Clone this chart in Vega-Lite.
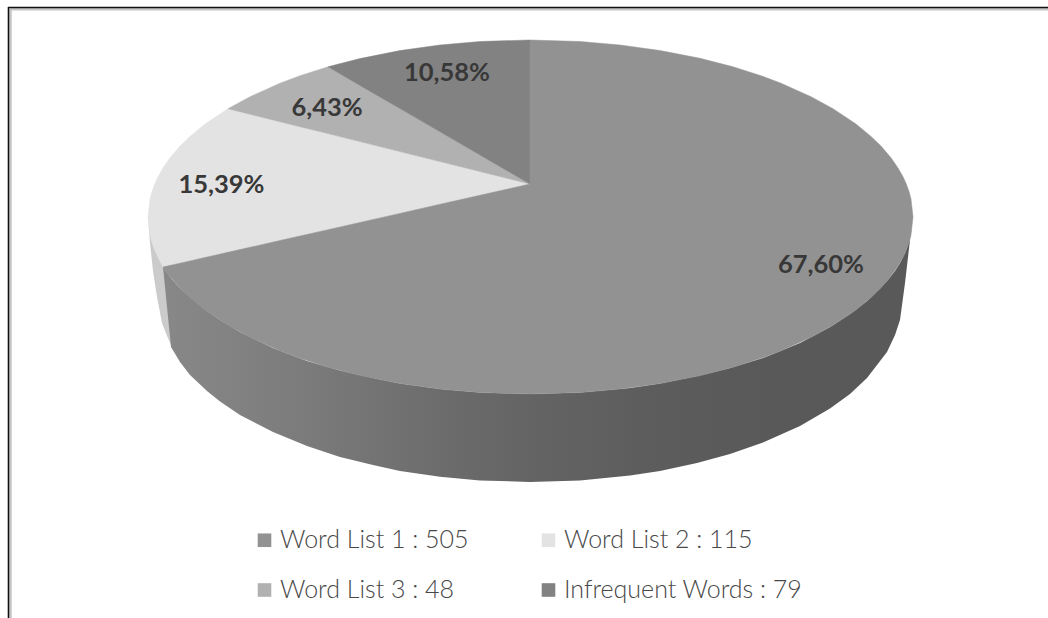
{
  "$schema": "https://vega.github.io/schema/vega-lite/v6.json",
  "width": 1048,
  "height": 618,
  "autosize": {"type": "none"},
  "padding": 0,
  "background": "white",
  "view": {"stroke": null},
  "datasets": {
    "frameInner": [
      {"x": 10, "x2": 1048, "y": 9.2, "y2": 9.2},
      {"x": 10.5, "x2": 10.5, "y": 9, "y2": 618}
    ],
    "frameOuter": [
      {"x": 8, "x2": 1048, "y": 7.5, "y2": 7.5},
      {"x": 8.5, "x2": 8.5, "y": 7, "y2": 618}
    ],
    "sideLight": [
      {"x": 148, "y": 217, "y2": 217},
      {"x": 150, "y": 217, "y2": 243},
      {"x": 153, "y": 217, "y2": 271},
      {"x": 157, "y": 217, "y2": 297},
      {"x": 162, "y": 217, "y2": 323},
      {"x": 167, "y": 217, "y2": 336},
      {"x": 172, "y": 217, "y2": 347}
    ],
    "sideDark": [
      {"x": 163, "y": 267, "y2": 267},
      {"x": 171, "y": 278, "y2": 347},
      {"x": 180, "y": 288, "y2": 362},
      {"x": 190, "y": 297, "y2": 375},
      {"x": 207, "y": 311, "y2": 391},
      {"x": 220, "y": 320, "y2": 401.6},
      {"x": 240, "y": 332, "y2": 415},
      {"x": 273, "y": 348, "y2": 432},
      {"x": 307, "y": 361, "y2": 446},
      {"x": 340, "y": 370.5, "y2": 457},
      {"x": 373, "y": 378, "y2": 465},
      {"x": 400, "y": 383.4, "y2": 471},
      {"x": 440, "y": 389, "y2": 476.7},
      {"x": 480, "y": 392.5, "y2": 480.4},
      {"x": 530, "y": 394, "y2": 482},
      {"x": 580, "y": 392.5, "y2": 480.4},
      {"x": 630, "y": 388, "y2": 475.4},
      {"x": 660, "y": 383.5, "y2": 471},
      {"x": 697, "y": 376, "y2": 463},
      {"x": 730, "y": 368, "y2": 454},
      {"x": 763, "y": 358, "y2": 442.5},
      {"x": 800, "y": 343, "y2": 426},
      {"x": 830, "y": 327, "y2": 408.5},
      {"x": 850, "y": 314, "y2": 394},
      {"x": 867, "y": 301, "y2": 378},
      {"x": 887, "y": 281, "y2": 352},
      {"x": 895, "y": 271, "y2": 335},
      {"x": 900, "y": 263, "y2": 320},
      {"x": 905, "y": 253, "y2": 283},
      {"x": 910, "y": 239, "y2": 240},
      {"x": 913, "y": 217, "y2": 217}
    ],
    "faces": [
      {"slice": "Word List 2 : 115", "x": 148, "y": 217, "y2": 217},
      {"slice": "Word List 2 : 115", "x": 150, "y": 199, "y2": 235},
      {"slice": "Word List 2 : 115", "x": 152, "y": 191.4, "y2": 242.6},
      {"slice": "Word List 2 : 115", "x": 155, "y": 183.3, "y2": 250.7},
      {"slice": "Word List 2 : 115", "x": 158, "y": 176.8, "y2": 257.2},
      {"slice": "Word List 2 : 115", "x": 163, "y": 167.9, "y2": 267},
      {"slice": "Word List 2 : 115", "x": 170, "y": 157.8, "y2": 265.4},
      {"slice": "Word List 2 : 115", "x": 180, "y": 146.1, "y2": 263.2},
      {"slice": "Word List 2 : 115", "x": 190, "y": 136.4, "y2": 260.9},
      {"slice": "Word List 2 : 115", "x": 205, "y": 124, "y2": 257.5},
      {"slice": "Word List 2 : 115", "x": 228, "y": 108.7, "y2": 252.3},
      {"slice": "Word List 2 : 115", "x": 250, "y": 114.2, "y2": 247.3},
      {"slice": "Word List 2 : 115", "x": 280, "y": 121.7, "y2": 240.5},
      {"slice": "Word List 2 : 115", "x": 328, "y": 133.6, "y2": 229.7},
      {"slice": "Word List 2 : 115", "x": 400, "y": 151.6, "y2": 213.4},
      {"slice": "Word List 2 : 115", "x": 480, "y": 171.5, "y2": 195.3},
      {"slice": "Word List 2 : 115", "x": 530, "y": 184, "y2": 184},

      {"slice": "Word List 3 : 48", "x": 228, "y": 108.7, "y2": 108.7},
      {"slice": "Word List 3 : 48", "x": 250, "y": 96.7, "y2": 114.2},
      {"slice": "Word List 3 : 48", "x": 280, "y": 83.2, "y2": 121.7},
      {"slice": "Word List 3 : 48", "x": 300, "y": 75.7, "y2": 126.7},
      {"slice": "Word List 3 : 48", "x": 328, "y": 66.8, "y2": 133.6},
      {"slice": "Word List 3 : 48", "x": 400, "y": 108.6, "y2": 151.6},
      {"slice": "Word List 3 : 48", "x": 480, "y": 155, "y2": 171.5},
      {"slice": "Word List 3 : 48", "x": 530, "y": 184, "y2": 184},

      {"slice": "Infrequent Words : 79", "x": 328, "y": 66.8, "y2": 66.8},
      {"slice": "Infrequent Words : 79", "x": 360, "y": 58.6, "y2": 85.4},
      {"slice": "Infrequent Words : 79", "x": 400, "y": 50.6, "y2": 108.6},
      {"slice": "Infrequent Words : 79", "x": 440, "y": 45, "y2": 131.8},
      {"slice": "Infrequent Words : 79", "x": 480, "y": 41.5, "y2": 155},
      {"slice": "Infrequent Words : 79", "x": 530, "y": 40, "y2": 184},

      {"slice": "Word List 1 : 505", "x": 163, "y": 267, "y2": 267},
      {"slice": "Word List 1 : 505", "x": 170, "y": 265.4, "y2": 276.2},
      {"slice": "Word List 1 : 505", "x": 180, "y": 263.2, "y2": 287.9},
      {"slice": "Word List 1 : 505", "x": 190, "y": 260.9, "y2": 297.6},
      {"slice": "Word List 1 : 505", "x": 205, "y": 257.5, "y2": 310},
      {"slice": "Word List 1 : 505", "x": 228, "y": 252.3, "y2": 325.3},
      {"slice": "Word List 1 : 505", "x": 250, "y": 247.3, "y2": 337.3},
      {"slice": "Word List 1 : 505", "x": 280, "y": 240.5, "y2": 350.8},
      {"slice": "Word List 1 : 505", "x": 300, "y": 236, "y2": 358.3},
      {"slice": "Word List 1 : 505", "x": 328, "y": 229.7, "y2": 367.2},
      {"slice": "Word List 1 : 505", "x": 360, "y": 222.4, "y2": 375.4},
      {"slice": "Word List 1 : 505", "x": 400, "y": 213.4, "y2": 383.4},
      {"slice": "Word List 1 : 505", "x": 440, "y": 204.3, "y2": 389},
      {"slice": "Word List 1 : 505", "x": 480, "y": 195.3, "y2": 392.5},
      {"slice": "Word List 1 : 505", "x": 530, "y": 184, "y2": 394},
      {"slice": "Word List 1 : 505", "x": 530, "y": 40, "y2": 394},
      {"slice": "Word List 1 : 505", "x": 580, "y": 41.5, "y2": 392.5},
      {"slice": "Word List 1 : 505", "x": 620, "y": 45, "y2": 389},
      {"slice": "Word List 1 : 505", "x": 660, "y": 50.5, "y2": 383.5},
      {"slice": "Word List 1 : 505", "x": 700, "y": 58.3, "y2": 375.7},
      {"slice": "Word List 1 : 505", "x": 733, "y": 66.8, "y2": 367.2},
      {"slice": "Word List 1 : 505", "x": 761, "y": 75.7, "y2": 358.3},
      {"slice": "Word List 1 : 505", "x": 781, "y": 83.2, "y2": 350.8},
      {"slice": "Word List 1 : 505", "x": 811, "y": 96.7, "y2": 337.3},
      {"slice": "Word List 1 : 505", "x": 833, "y": 108.7, "y2": 325.3},
      {"slice": "Word List 1 : 505", "x": 856, "y": 124, "y2": 310},
      {"slice": "Word List 1 : 505", "x": 871, "y": 136.4, "y2": 297.6},
      {"slice": "Word List 1 : 505", "x": 881, "y": 146.1, "y2": 287.9},
      {"slice": "Word List 1 : 505", "x": 891, "y": 157.8, "y2": 276.2},
      {"slice": "Word List 1 : 505", "x": 898, "y": 167.9, "y2": 266.1},
      {"slice": "Word List 1 : 505", "x": 903, "y": 176.8, "y2": 257.2},
      {"slice": "Word List 1 : 505", "x": 906, "y": 183.3, "y2": 250.7},
      {"slice": "Word List 1 : 505", "x": 909, "y": 191.4, "y2": 242.6},
      {"slice": "Word List 1 : 505", "x": 911, "y": 199, "y2": 235},
      {"slice": "Word List 1 : 505", "x": 913, "y": 217, "y2": 217}
    ],
    "shares": [
      {"share": "67,60%", "x": 821, "y": 265},
      {"share": "15,39%", "x": 221.5, "y": 185},
      {"share": "6,43%", "x": 327, "y": 108},
      {"share": "10,58%", "x": 447, "y": 73}
    ]
  },
  "encoding": {
    "x": {"field": "x", "type": "quantitative", "scale": {"domain": [0, 1048], "nice": false, "zero": false}, "axis": null},
    "y": {"field": "y", "type": "quantitative", "scale": {"domain": [618, 0], "nice": false, "zero": false}, "axis": null}
  },
  "layer": [
    {
      "data": {"name": "frameInner"},
      "mark": {"type": "rule", "color": "#c6c6c6", "strokeWidth": 2.5},
      "encoding": {"x2": {"field": "x2"}, "y2": {"field": "y2"}}
    },
    {
      "data": {"name": "frameOuter"},
      "mark": {"type": "rule", "color": "#111111", "strokeWidth": 1.6},
      "encoding": {"x2": {"field": "x2"}, "y2": {"field": "y2"}}
    },
    {
      "data": {"name": "sideLight"},
      "mark": {"type": "area", "color": "#cbcbcb"},
      "encoding": {"y2": {"field": "y2"}}
    },
    {
      "data": {"name": "sideDark"},
      "mark": {
        "type": "area",
        "color": {
          "gradient": "linear", "x1": 0, "y1": 0, "x2": 1, "y2": 0,
          "stops": [
            {"offset": 0, "color": "#888888"},
            {"offset": 0.18, "color": "#7c7c7c"},
            {"offset": 0.37, "color": "#6c6c6c"},
            {"offset": 0.49, "color": "#646464"},
            {"offset": 0.64, "color": "#5d5d5d"},
            {"offset": 0.8, "color": "#595959"},
            {"offset": 1, "color": "#595959"}
          ]
        }
      },
      "encoding": {"y2": {"field": "y2"}}
    },
    {
      "data": {"name": "faces"},
      "mark": {"type": "area", "strokeWidth": 0.5},
      "encoding": {
        "y2": {"field": "y2"},
        "color": {
          "field": "slice",
          "type": "nominal",
          "sort": null,
          "scale": {
            "domain": ["Word List 1 : 505", "Word List 3 : 48", "Word List 2 : 115", "Infrequent Words : 79"],
            "range": ["#929292", "#b1b1b1", "#e3e3e3", "#828282"]
          },
          "legend": {
            "title": null,
            "orient": "none",
            "legendX": 252,
            "legendY": 527.5,
            "padding": 0,
            "columns": 2,
            "symbolType": "square",
            "symbolSize": 185,
            "symbolStrokeWidth": 0,
            "labelFont": "Lato",
            "labelFontWeight": 300,
            "labelFontSize": 25,
            "labelColor": "#484848",
            "labelLimit": 400,
            "labelOffset": 3,
            "rowPadding": 24,
            "columnPadding": 67
          }
        },
        "stroke": {
          "field": "slice",
          "type": "nominal",
          "scale": {
            "domain": ["Word List 1 : 505", "Word List 3 : 48", "Word List 2 : 115", "Infrequent Words : 79"],
            "range": ["#929292", "#b1b1b1", "#e3e3e3", "#828282"]
          },
          "legend": null
        },
        "order": {"field": "slice", "type": "nominal", "sort": "descending"}
      }
    },
    {
      "data": {"name": "shares"},
      "mark": {"type": "text", "font": "Lato", "fontWeight": "bold", "fontSize": 25.5, "color": "#383838", "align": "center", "baseline": "middle"},
      "encoding": {"text": {"field": "share", "type": "nominal"}}
    }
  ]
}
